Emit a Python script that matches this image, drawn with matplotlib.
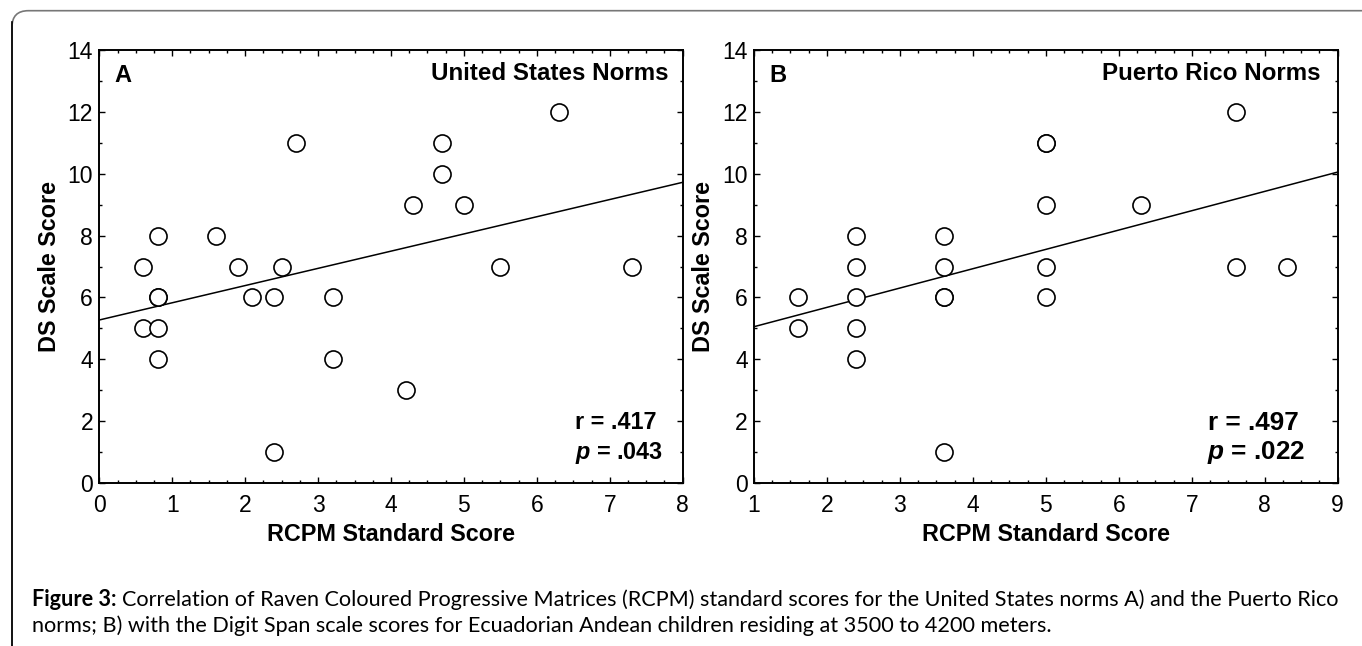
import numpy as np
import matplotlib
matplotlib.use('Agg')
import matplotlib.pyplot as plt
from matplotlib.patches import FancyBboxPatch
from matplotlib.lines import Line2D

plt.rcParams['font.family'] = ['Liberation Sans', 'DejaVu Sans']
plt.rcParams['mathtext.fontset'] = 'custom'
plt.rcParams['mathtext.bfit'] = 'Liberation Sans:bold:italic'

# Panel A: United States norms
us_rcpm = [0.6, 0.8, 1.6, 1.9, 2.5, 2.7, 6.3, 4.7, 4.7, 4.3, 5.0, 5.5, 7.3,
           0.8, 0.8, 2.1, 2.4, 3.2, 0.6, 0.8, 0.8, 3.2, 2.4, 4.2]
us_ds = [7, 8, 8, 7, 7, 11, 12, 11, 10, 9, 9, 7, 7,
         6, 6, 6, 6, 6, 5, 5, 4, 4, 1, 3]

# Panel B: Puerto Rico norms
pr_rcpm = [2.4, 2.4, 3.6, 3.6, 5.0, 5.0, 5.0, 5.0, 7.6, 6.3, 7.6, 8.3,
           1.6, 1.6, 2.4, 2.4, 2.4, 3.6, 3.6, 3.6, 5.0]
pr_ds = [8, 7, 8, 7, 11, 11, 9, 7, 12, 9, 7, 7,
         6, 5, 6, 5, 4, 6, 6, 1, 6]

W, H = 1362, 646
fig = plt.figure(figsize=(W / 100, H / 100), dpi=100)


def fx(px):
    return px / W


def fy(py):
    return 1 - py / H


panels = [
    dict(x=us_rcpm, y=us_ds, xlim=(0, 8), left=99.3, right=682.7,
         letter='A', title='United States Norms', tx=0.975,
         r='r = .417', p='.043', rx=0.955, px=0.966, fs=16.8),
    dict(x=pr_rcpm, y=pr_ds, xlim=(1, 9), left=754, right=1337.7,
         letter='B', title='Puerto Rico Norms', tx=0.971,
         r='r = .497', p='.022', rx=0.933, px=0.945, fs=18.8),
]

top, bottom = 50, 483
for pn in panels:
    ax = fig.add_axes([fx(pn['left']), fy(bottom),
                       fx(pn['right'] - pn['left']), (bottom - top) / H])
    x = np.array(pn['x'])
    y = np.array(pn['y'])
    ax.plot(x, y, 'o', ms=12.3, mfc='white', mec='black', mew=1.2,
            zorder=3, clip_on=False)
    slope, icpt = np.polyfit(x, y, 1)
    xx = np.array(pn['xlim'])
    ax.plot(xx, icpt + slope * xx, color='black', lw=1.1, zorder=2)

    ax.set_xlim(*pn['xlim'])
    ax.set_ylim(0, 14)
    ax.set_xticks(np.arange(pn['xlim'][0], pn['xlim'][1] + 1, 1))
    ax.set_xticks(np.arange(pn['xlim'][0], pn['xlim'][1] + 0.01, 0.25), minor=True)
    ax.set_yticks(np.arange(0, 15, 2))
    ax.set_yticks(np.arange(0, 15, 1), minor=True)
    ax.tick_params(which='both', direction='in', top=True, right=True,
                   width=1.0, labelsize=16.5)
    ax.tick_params(axis='x', which='major', pad=8)
    ax.tick_params(axis='y', which='major', pad=4.5)
    ax.tick_params(which='major', length=4.5)
    ax.tick_params(which='minor', length=2.3)
    for s in ax.spines.values():
        s.set_linewidth(1.4)

    ax.set_xlabel('RCPM Standard Score', fontsize=16.8, fontweight='bold',
                  labelpad=4)
    ax.set_ylabel('DS Scale Score', fontsize=16.8, fontweight='bold',
                  labelpad=5)

    ax.text(0.026, 0.942, pn['letter'], transform=ax.transAxes,
            fontsize=17, fontweight='bold', ha='left', va='center')
    ax.text(pn['tx'], 0.946, pn['title'], transform=ax.transAxes,
            fontsize=17.4, fontweight='bold', ha='right', va='center')
    ax.text(pn['rx'], 0.139, pn['r'], transform=ax.transAxes,
            fontsize=pn['fs'], fontweight='bold', ha='right', va='center')
    ax.text(pn['px'], 0.070, r'$\bfit{p}$' + ' = ' + pn['p'],
            transform=ax.transAxes, fontsize=pn['fs'], fontweight='bold',
            ha='right', va='center')

# figure frame: gray top edge with rounded corner, black left edge
frame = FancyBboxPatch((fx(12), fy(H + 40)), fx(W + 40), (H + 40 - 10.7) / H,
                       boxstyle='round,pad=0,rounding_size=0.012',
                       transform=fig.transFigure, fc='none', ec='#777777',
                       lw=1.2, mutation_aspect=W / H)
fig.patches.append(frame)
fig.lines.append(Line2D([fx(12), fx(12)], [fy(H + 5), fy(22)],
                        transform=fig.transFigure, color='black', lw=1.2))

# caption
cap_font = ['Lato', 'Liberation Sans']
cap_size = 14
line1 = ('Correlation of Raven Coloured Progressive Matrices (RCPM) standard '
         'scores for the United States norms A) and the Puerto Rico')
line2 = ('norms; B) with the Digit Span scale scores for Ecuadorian Andean '
         'children residing at 3500 to 4200 meters.')
t1 = fig.text(fx(32), fy(600), 'Figure 3:', fontsize=cap_size,
              fontweight='bold', family=cap_font, va='center', ha='left')
t2 = fig.text(0, fy(600), line1, fontsize=cap_size, family=cap_font,
              va='center', ha='left')
t3 = fig.text(fx(32), fy(626), line2, fontsize=cap_size, family=cap_font,
              va='center', ha='left')
# fit the first caption line to end near the right edge
fig.canvas.draw()
total = t1.get_window_extent().width + 5 + t2.get_window_extent().width
cap_size = cap_size * (1340 - 32) / total
for t in (t1, t2, t3):
    t.set_fontsize(cap_size)
fig.canvas.draw()
t2.set_x((t1.get_window_extent().x1 + 5) / W)

fig.savefig('out.png', dpi=100)
